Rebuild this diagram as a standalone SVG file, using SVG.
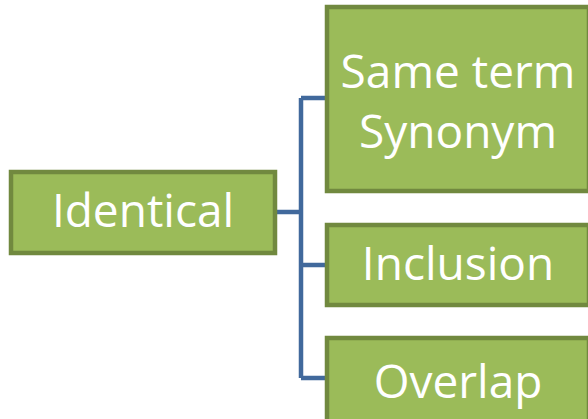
<svg xmlns="http://www.w3.org/2000/svg" width="588" height="419" viewBox="0 0 588 419">
<style>
.box{fill:#9BBB59;stroke:#71893F;stroke-width:4.5}
.lbl{fill:#FFFFFF;font-family:"Open Sans","Noto Sans",sans-serif;font-size:46px;text-anchor:middle}
.conn{fill:none;stroke:#41699C;stroke-width:4.5;stroke-linejoin:miter}
</style>
<rect width="588" height="419" fill="#FFFFFF"/>
<g id="connectors">
<path class="conn" d="M277 212 H301 M301 98 V378 M301 98 H327 M301 265 H327 M301 378 H327"/>
</g>
<g id="identical">
<rect class="box" x="11" y="172" width="264" height="81"/>
<text class="lbl" x="143" y="227">Identical</text>
</g>
<g id="same-term">
<rect class="box" x="327" y="7" width="262" height="184"/>
<text class="lbl" x="458" y="88">Same term</text>
<text class="lbl" x="458" y="148">Synonym</text>
</g>
<g id="inclusion">
<rect class="box" x="327" y="225" width="262" height="80"/>
<text class="lbl" x="458" y="280">Inclusion</text>
</g>
<g id="overlap">
<rect class="box" x="327" y="338" width="262" height="90"/>
<text class="lbl" x="458" y="398">Overlap</text>
</g>
</svg>
